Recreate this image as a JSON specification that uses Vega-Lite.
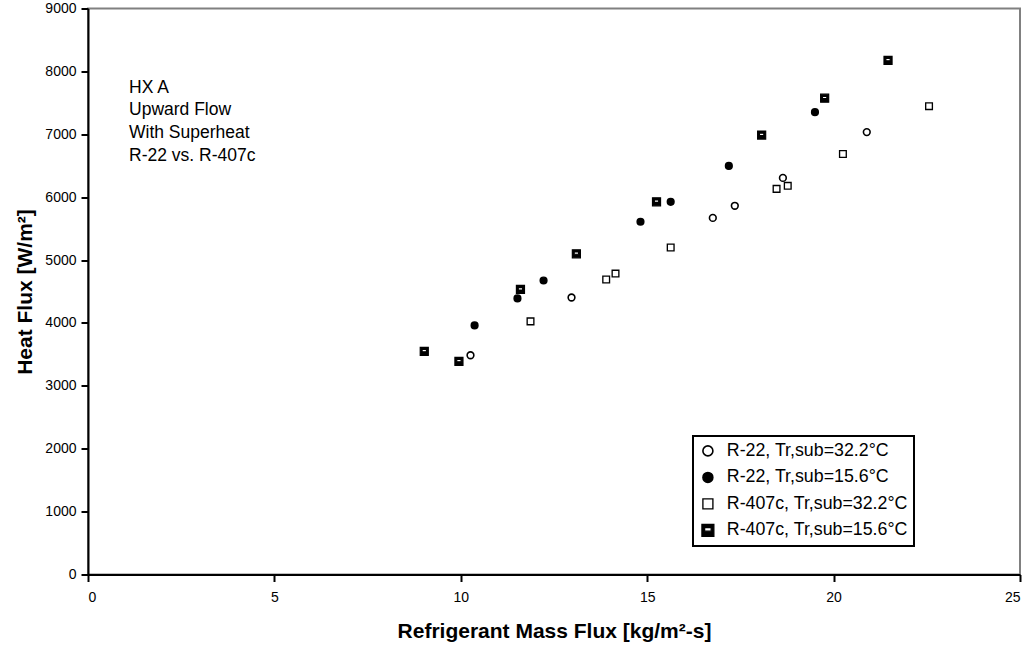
{
  "$schema": "https://vega.github.io/schema/vega-lite/v6.json",
  "width": 932,
  "height": 566,
  "autosize": "none",
  "padding": {"left": 88, "top": 8.5, "right": 14, "bottom": 74.5},
  "background": "white",
  "config": {
    "font": "Liberation Sans",
    "view": {"stroke": "#808080", "strokeWidth": 2},
    "axis": {"grid": false, "domainColor": "black", "domainWidth": 2, "tickColor": "black", "tickWidth": 2, "tickSize": 7, "labelColor": "black", "labelFontSize": 14, "labelFont": "Liberation Sans", "titleFont": "Liberation Sans", "titleFontSize": 21, "titleFontWeight": "bold", "titleColor": "black", "format": "d"},
    "legend": {"labelFont": "Liberation Sans", "labelFontSize": 17.8, "labelColor": "black", "strokeColor": "black", "strokeWidth": 2, "padding": 6, "rowPadding": 7.5, "labelOffset": 10, "labelLimit": 400}
  },
  "datasets": {
    "pts": [
      {"series": "R-22, Tr,sub=32.2°C", "G": 10.26, "Q": 3486},
      {"series": "R-22, Tr,sub=32.2°C", "G": 12.97, "Q": 4405},
      {"series": "R-22, Tr,sub=32.2°C", "G": 16.76, "Q": 5670},
      {"series": "R-22, Tr,sub=32.2°C", "G": 17.35, "Q": 5863},
      {"series": "R-22, Tr,sub=32.2°C", "G": 18.64, "Q": 6306},
      {"series": "R-22, Tr,sub=32.2°C", "G": 20.89, "Q": 7035},
      {"series": "R-22, Tr,sub=15.6°C", "G": 10.37, "Q": 3961},
      {"series": "R-22, Tr,sub=15.6°C", "G": 11.52, "Q": 4390},
      {"series": "R-22, Tr,sub=15.6°C", "G": 12.22, "Q": 4675},
      {"series": "R-22, Tr,sub=15.6°C", "G": 14.82, "Q": 5609},
      {"series": "R-22, Tr,sub=15.6°C", "G": 15.63, "Q": 5926},
      {"series": "R-22, Tr,sub=15.6°C", "G": 17.19, "Q": 6497},
      {"series": "R-22, Tr,sub=15.6°C", "G": 19.5, "Q": 7352},
      {"series": "R-407c, Tr,sub=32.2°C", "G": 11.87, "Q": 4025},
      {"series": "R-407c, Tr,sub=32.2°C", "G": 13.9, "Q": 4690},
      {"series": "R-407c, Tr,sub=32.2°C", "G": 14.15, "Q": 4785},
      {"series": "R-407c, Tr,sub=32.2°C", "G": 15.63, "Q": 5200},
      {"series": "R-407c, Tr,sub=32.2°C", "G": 18.47, "Q": 6132},
      {"series": "R-407c, Tr,sub=32.2°C", "G": 18.77, "Q": 6180},
      {"series": "R-407c, Tr,sub=32.2°C", "G": 20.25, "Q": 6687},
      {"series": "R-407c, Tr,sub=32.2°C", "G": 22.56, "Q": 7447},
      {"series": "R-407c, Tr,sub=15.6°C", "G": 9.02, "Q": 3549},
      {"series": "R-407c, Tr,sub=15.6°C", "G": 9.95, "Q": 3390},
      {"series": "R-407c, Tr,sub=15.6°C", "G": 11.6, "Q": 4532},
      {"series": "R-407c, Tr,sub=15.6°C", "G": 13.1, "Q": 5100},
      {"series": "R-407c, Tr,sub=15.6°C", "G": 15.25, "Q": 5926},
      {"series": "R-407c, Tr,sub=15.6°C", "G": 18.07, "Q": 6988},
      {"series": "R-407c, Tr,sub=15.6°C", "G": 19.76, "Q": 7574},
      {"series": "R-407c, Tr,sub=15.6°C", "G": 21.46, "Q": 8176}
    ],
    "note": [
      {"lines": ["HX A", "Upward Flow", "With Superheat", "R-22 vs. R-407c"]}
    ]
  },
  "layer": [
    {
      "data": {"name": "pts"},
      "mark": {"type": "point", "stroke": "black", "opacity": 1},
      "encoding": {
        "x": {"field": "G", "type": "quantitative", "scale": {"domain": [0, 25], "nice": false, "zero": true}, "axis": {"values": [0, 5, 10, 15, 20, 25], "title": "Refrigerant Mass Flux [kg/m²-s]", "labelPadding": 9, "titlePadding": 16}},
        "y": {"field": "Q", "type": "quantitative", "scale": {"domain": [0, 9000], "nice": false}, "axis": {"values": [0, 1000, 2000, 3000, 4000, 5000, 6000, 7000, 8000, 9000], "title": "Heat Flux [W/m²]", "labelPadding": 5, "titlePadding": 9}},
        "shape": {"field": "series", "type": "nominal", "scale": {"domain": ["R-22, Tr,sub=32.2°C", "R-22, Tr,sub=15.6°C", "R-407c, Tr,sub=32.2°C", "R-407c, Tr,sub=15.6°C"], "range": ["circle", "circle", "square", "M-1.2,-1.2H1.2V1.2H-1.2Z M-0.65,-0.55V0.15H0.65V-0.55Z"]}, "legend": {"title": null, "orient": "none", "legendX": 605, "legendY": 427.5}},
        "fill": {"field": "series", "type": "nominal", "scale": {"domain": ["R-22, Tr,sub=32.2°C", "R-22, Tr,sub=15.6°C", "R-407c, Tr,sub=32.2°C", "R-407c, Tr,sub=15.6°C"], "range": ["white", "black", "white", "black"]}, "legend": {"title": null, "orient": "none", "legendX": 605, "legendY": 427.5}},
        "strokeWidth": {"field": "series", "type": "nominal", "scale": {"domain": ["R-22, Tr,sub=32.2°C", "R-22, Tr,sub=15.6°C", "R-407c, Tr,sub=32.2°C", "R-407c, Tr,sub=15.6°C"], "range": [1.6, 1.2, 1.6, 0]}, "legend": {"title": null, "orient": "none", "legendX": 605, "legendY": 427.5}},
        "size": {"value": 45}
      }
    },
    {
      "data": {"name": "note"},
      "mark": {"type": "text", "align": "left", "baseline": "top", "fontSize": 17.5, "lineHeight": 22.7, "font": "Liberation Sans", "color": "black"},
      "encoding": {
        "x": {"datum": 1.1},
        "y": {"datum": 7886},
        "text": {"field": "lines"}
      }
    }
  ]
}
